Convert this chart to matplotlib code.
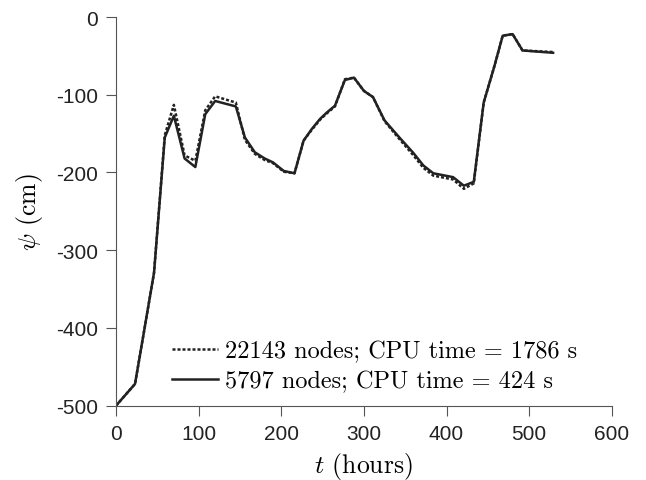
import numpy as np
import matplotlib
matplotlib.use("Agg")
import matplotlib.pyplot as plt

plt.rcParams['axes.unicode_minus'] = False
plt.rcParams['mathtext.fontset'] = 'cm'

# time (hours) and pressure head (cm)
t_coarse = [0, 23, 33, 46, 59, 70, 83, 96, 108, 120, 145, 156, 168, 180, 190,
            203, 216, 227, 237, 247, 255, 265, 277, 288, 300, 311, 325, 343,
            360, 372, 384, 408, 421, 433, 445, 458, 468, 480, 492, 529]
psi_coarse = [-500, -472, -410, -329, -155, -127, -182, -193, -125, -108, -115,
              -155, -174, -182, -187, -198, -201, -159, -144, -131, -123, -114,
              -81, -78, -95, -103, -133, -155, -175, -191, -201, -206, -217,
              -212, -110, -63, -24, -22, -43, -46]

t_fine = t_coarse
psi_fine = [-500, -472, -410, -329, -152, -113, -178, -185, -120, -102, -110,
            -158, -176, -184, -188, -199, -201, -159, -145, -132, -124, -115,
            -80, -78, -95, -103, -134, -157, -178, -194, -204, -209, -221,
            -214, -110, -63, -24, -22, -43, -45]

fig = plt.figure(figsize=(6.46, 4.81), dpi=100)
ax = fig.add_axes([0.1796, 0.1545, 0.7674, 0.808])

ax.plot(t_fine, psi_fine, color='#222222', lw=1.8, ls=(0, (1.2, 0.8)),
        label='22143 nodes; CPU time = 1786 s')
ax.plot(t_coarse, psi_coarse, color='#222222', lw=1.8,
        label='5797 nodes; CPU time = 424 s')

ax.set_xlim(0, 600)
ax.set_ylim(-500, 0)
ax.set_xticks(np.arange(0, 601, 100))
ax.set_yticks(np.arange(-500, 1, 100))
for s in ['top', 'right']:
    ax.spines[s].set_visible(False)
for s in ['left', 'bottom']:
    ax.spines[s].set_color('#555555')
ax.tick_params(direction='out', length=7, color='#555555', labelsize=15,
               labelcolor='#222222', pad=6)
for lab in ax.get_xticklabels() + ax.get_yticklabels():
    lab.set_fontfamily('Liberation Sans')

ax.set_xlabel(r'$t$ (hours)', fontsize=18.5, fontfamily='cmr10', labelpad=5)
ax.set_ylabel(r'$\psi$ (cm)', fontsize=18.5, fontfamily='cmr10', labelpad=8)

leg = ax.legend(loc='lower left', bbox_to_anchor=(0.093, 0.01), frameon=False,
                prop={'family': 'cmr10', 'size': 17.5}, handlelength=1.9,
                handletextpad=0.3, labelspacing=0.3, borderaxespad=0)

fig.savefig('out.png', dpi=100)
